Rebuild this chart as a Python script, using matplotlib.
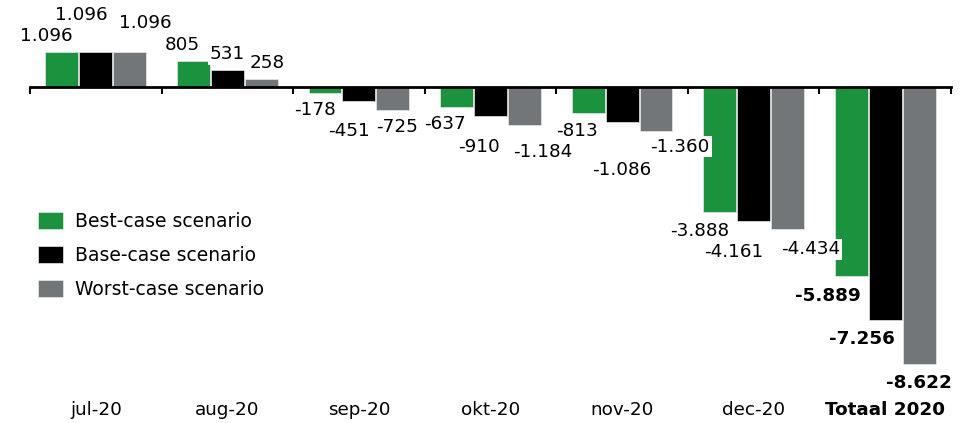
import matplotlib
matplotlib.use("Agg")
import matplotlib.pyplot as plt
from matplotlib.patches import Patch
import matplotlib.transforms as mtransforms
import numpy as np

plt.rcParams["font.family"] = ["DejaVu Sans"]

categories = ["jul-20", "aug-20", "sep-20", "okt-20", "nov-20", "dec-20", "Totaal 2020"]
series_names = ["Best-case scenario", "Base-case scenario", "Worst-case scenario"]
best = [1096, 805, -178, -637, -813, -3888, -5889]
base = [1096, 531, -451, -910, -1086, -4161, -7256]
worst = [1096, 258, -725, -1184, -1360, -4434, -8622]
labels_best = ["1.096", "805", "-178", "-637", "-813", "-3.888", "-5.889"]
labels_base = ["1.096", "531", "-451", "-910", "-1.086", "-4.161", "-7.256"]
labels_worst = ["1.096", "258", "-725", "-1.184", "-1.360", "-4.434", "-8.622"]

colors = ["#1b933e", "#000000", "#737678"]

# label offsets in pixels (dx, dy-from-bar-end, positive dy = further from zero)
off_best = [(-16, 16), (-11, 16), (-10, 17), (-12, 17), (-11, 18), (-20, 19), (-23, 20)]
off_base = [(-14, 37), (0, 16), (-10, 30), (-11, 31), (0, 48), (-20, 31), (-23, 19)]
off_worst = [(16, 29), (6, 16), (4, 17), (18, 27), (24, 16), (23, 20), (0, 19)]

W, H = 969, 423
fig = plt.figure(figsize=(W / 100, H / 100), dpi=100)
ax_left, ax_right = 30, 951
ax_top, ax_bot = 10, 390
ax = fig.add_axes([ax_left / W, 1 - ax_bot / H, (ax_right - ax_left) / W, (ax_bot - ax_top) / H])
ax.set_xlim(-0.5, len(categories) - 0.5)
ax.set_ylim(-9439, 2399)

FS = 13.2
x = np.arange(len(categories))
bw = 0.25
step = 0.258
all_vals = [best, base, worst]
all_labels = [labels_best, labels_base, labels_worst]
all_offs = [off_best, off_base, off_worst]
px2pt = 0.72
for i, (vals, col, name) in enumerate(zip(all_vals, colors, series_names)):
    xs = x + (i - 1) * step
    ax.bar(xs, vals, width=bw, color=col, edgecolor="#e8e8e8", linewidth=0.5, label=name, zorder=2)
    for j, (xx, v) in enumerate(zip(xs, vals)):
        dx, dy = all_offs[i][j]
        sign = 1 if v >= 0 else -1
        bold = (j == len(categories) - 1)
        ax.annotate(all_labels[i][j], xy=(xx, v), xytext=(dx * px2pt, sign * dy * px2pt),
                    textcoords="offset points", ha="center", va="center",
                    fontsize=FS, fontweight="bold" if bold else "normal",
                    color="black", zorder=5,
                    bbox=dict(boxstyle="square,pad=0.1", fc="white", ec="none"))

for s in ["top", "right", "left"]:
    ax.spines[s].set_visible(False)
ax.spines["bottom"].set_position(("data", 0))
ax.spines["bottom"].set_linewidth(2)
ax.spines["bottom"].set_zorder(4)
ax.set_yticks([])
ax.set_xticks(np.arange(-0.5, len(categories) + 0.5, 1.0))
ax.set_xticklabels([])
ax.tick_params(axis="x", direction="out", length=5, width=1.5, color="black")

trans = mtransforms.blended_transform_factory(ax.transData, fig.transFigure)
for j, c in enumerate(categories):
    ax.text(j, 1 - 410 / H, c, transform=trans, ha="center", va="center",
            fontsize=FS, fontweight="bold" if j == len(categories) - 1 else "normal")

handles = [Patch(facecolor=c, edgecolor="#e8e8e8", linewidth=0.5) for c in colors]
fig.legend(handles, series_names, loc="upper left", bbox_to_anchor=(38 / W, 1 - 212 / H),
           frameon=False, fontsize=13.5, handlelength=1.33, handleheight=0.96,
           handletextpad=0.64, labelspacing=0.8, borderaxespad=0, borderpad=0)

fig.savefig("out.png", dpi=100)
